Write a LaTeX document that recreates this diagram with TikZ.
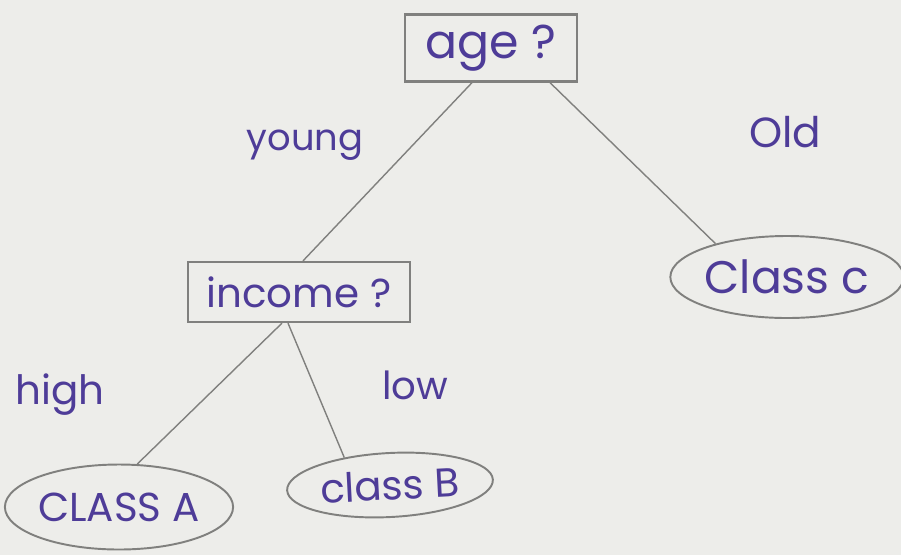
\documentclass[tikz,border=0pt]{standalone}
\usepackage{fontspec}
\setmainfont{Poppins}
\usetikzlibrary{shapes.geometric,calc}
\definecolor{paper}{RGB}{237,237,234}
\definecolor{ink}{RGB}{78,60,152}
\definecolor{pencil}{RGB}{128,128,126}
\newcommand{\fsz}[1]{\fontsize{#1}{#1}\selectfont}
\tikzset{
  question/.style={draw=pencil, line width=1.3pt, rectangle, inner sep=0pt, text=ink},
  leaf/.style={draw=pencil, line width=1.1pt, ellipse, inner sep=0pt, text=ink},
  branch/.style={draw=pencil, line width=0.8pt},
  edgelabel/.style={text=ink, inner sep=0pt}
}
\begin{document}
\begin{tikzpicture}[x=0.02cm,y=-0.02cm]
  % paper background
  \fill[paper] (0,0) rectangle (901,555);
  \useasboundingbox (0,0) rectangle (901,555);

  % decision nodes
  \node[question, minimum width=172*0.02cm, minimum height=67*0.02cm] (age) at (491,48) {\fsz{27}age ?};
  \node[question, minimum width=222*0.02cm, minimum height=60*0.02cm] (income) at (299,292) {\fsz{23}income ?};

  % leaves
  \node[leaf, minimum width=228*0.02cm, minimum height=82*0.02cm] (classC) at (787,277) {\fsz{26}Class c};
  \node[leaf, minimum width=222*0.02cm, minimum height=85*0.02cm] (classA) at (119,507) {\fsz{23}CLASS A};
  \node[leaf, minimum width=206*0.02cm, minimum height=64*0.02cm, rotate=3] (classB) at (390,485) {\fsz{23}class B};

  % branches
  \draw[branch] ($(age.south)+(-19,0)$) -- ($(income.north)+(4,0)$);
  \draw[branch] ($(age.south)+(59,0)$) -- (classC.155);
  \draw[branch] ($(income.south)+(-17,0)$) -- (classA.67);
  \draw[branch] ($(income.south)+(-11,0)$) -- (classB.146);

  % branch labels
  \node[edgelabel] (young) at (305,145) {\fsz{21}young};
  \node[edgelabel] (old) at (785,132) {\fsz{24}Old};
  \node[edgelabel] (high) at (60,395) {\fsz{23}high};
  \node[edgelabel] (low) at (415,385) {\fsz{22}low};
\end{tikzpicture}
\end{document}
